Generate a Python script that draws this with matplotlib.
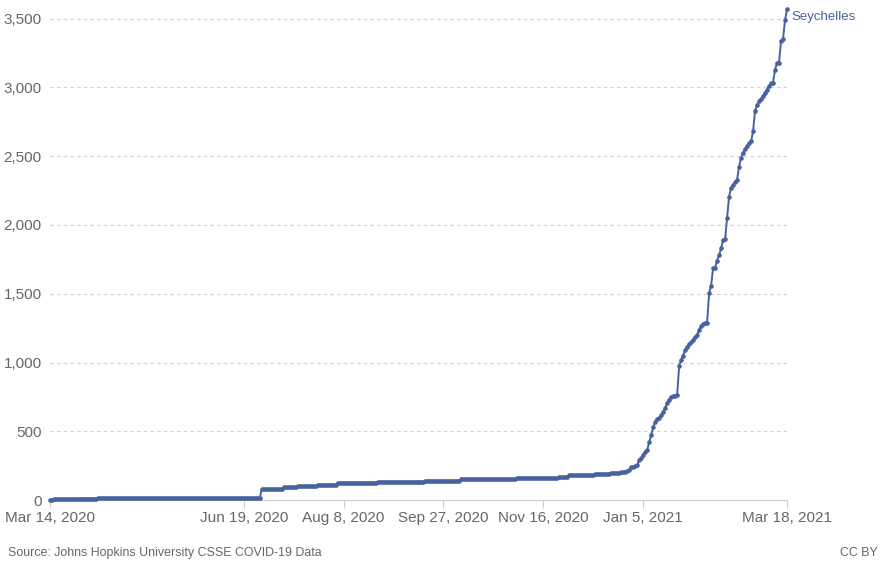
import matplotlib.pyplot as plt
import matplotlib.dates as mdates
from matplotlib.ticker import FuncFormatter
import pandas as pd

plt.rcParams['font.family'] = ['Liberation Sans', 'DejaVu Sans']

# cumulative confirmed cases, dates where the count changed (flat period)
step_dates = ['2020-03-14', '2020-03-16', '2020-03-20', '2020-03-27', '2020-04-07',
              '2020-06-28', '2020-07-09', '2020-07-16', '2020-07-26', '2020-08-05',
              '2020-08-25', '2020-09-18', '2020-10-06', '2020-11-03', '2020-11-24',
              '2020-11-29', '2020-12-12']
step_values = [2, 4, 7, 10, 11,
               77, 92, 100, 111, 126,
               133, 140, 150, 158, 167,
               180, 189]

# daily values from Dec 14, 2020 to Mar 18, 2021
daily_start = '2020-12-14'
daily_values = [189, 189, 190, 190, 192, 192, 193, 194, 196, 198,
                199, 202, 204, 206, 210, 218, 237, 243, 247, 255,
                290, 305, 330, 352, 364, 420, 470, 530, 570, 588,
                600, 615, 640, 667, 705, 730, 750, 755, 760, 764,
                975, 1020, 1050, 1090, 1116, 1135, 1150, 1165, 1185, 1201,
                1237, 1265, 1281, 1286, 1290, 1504, 1560, 1686, 1690, 1740,
                1780, 1830, 1888, 1895, 2050, 2207, 2270, 2290, 2310, 2330,
                2420, 2490, 2525, 2555, 2575, 2596, 2608, 2681, 2830, 2870,
                2899, 2915, 2935, 2960, 2985, 3010, 3030, 3035, 3129, 3178,
                3180, 3335, 3353, 3488, 3570]

tick_dates = ['2020-03-14', '2020-06-19', '2020-08-08', '2020-09-27',
              '2020-11-16', '2021-01-05', '2021-03-18']

steps = pd.Series(step_values, index=pd.to_datetime(step_dates))
daily = pd.Series(daily_values,
                  index=pd.date_range(daily_start, periods=len(daily_values), freq='D'))
full_idx = pd.date_range(step_dates[0], daily.index[-1], freq='D')
flat = steps.reindex(full_idx).ffill()
series = flat.copy()
series.loc[daily.index] = daily

color = '#46639f'
grey = '#666666'

fig = plt.figure(figsize=(8.84, 5.61), dpi=100)
ax = fig.add_axes([50/884, 61/561, 737/884, 556/561 - 61/561])

ax.plot(series.index, series.values, color=color, lw=1.4, marker='o',
        markersize=2.3, zorder=3, clip_on=False)

ax.set_xlim(pd.Timestamp(tick_dates[0]), pd.Timestamp(tick_dates[-1]))
ax.set_ylim(0, 3600)
ax.set_yticks(range(0, 3501, 500))
ax.yaxis.set_major_formatter(FuncFormatter(lambda v, p: f'{int(v):,}'))
ax.set_xticks(pd.to_datetime(tick_dates))
ax.xaxis.set_major_formatter(mdates.DateFormatter('%b %-d, %Y'))

for v in range(500, 3501, 500):
    ax.axhline(v, color='#d0d0d0', lw=0.8, ls=(0, (3, 3)), zorder=1)

for s in ['top', 'right', 'left']:
    ax.spines[s].set_visible(False)
ax.spines['bottom'].set_color('#cccccc')
ax.tick_params(axis='y', length=0, pad=6, labelsize=11, labelcolor=grey)
ax.tick_params(axis='x', length=6, color='#cccccc', pad=2, labelsize=11, labelcolor=grey)

ax.text(series.index[-1] + pd.Timedelta(days=2), series.values[-1] - 15, 'Seychelles',
        color=color, fontsize=9.5, va='top', ha='left')

fig.text(8/884, 1 - 553/561, 'Source: Johns Hopkins University CSSE COVID-19 Data',
         fontsize=8.9, color=grey, va='center', ha='left')
fig.text(840/884, 1 - 553/561, 'CC BY', fontsize=8.9, color=grey, va='center', ha='left')

fig.savefig('out.png', dpi=100)
